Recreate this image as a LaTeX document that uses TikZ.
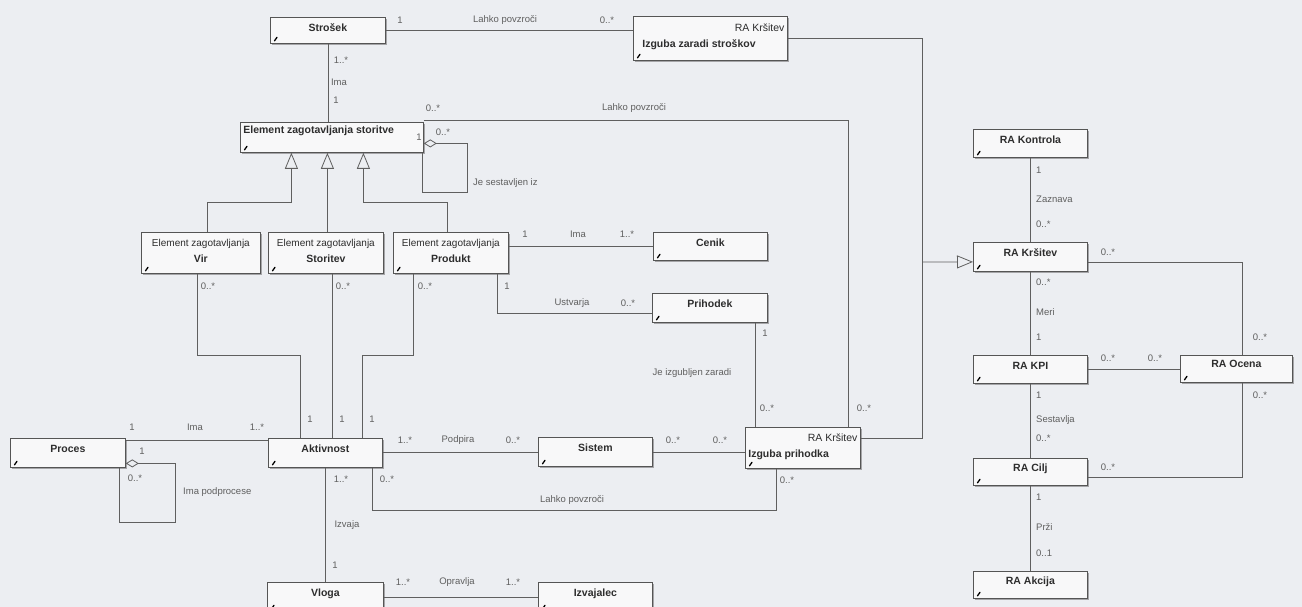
\documentclass[tikz,border=0pt]{standalone}
\usepackage{fontspec}
\setmainfont{Liberation Sans}
\usetikzlibrary{arrows.meta,shadows,calc}
\definecolor{bg}{RGB}{236,238,242}
\definecolor{boxfill}{RGB}{248,248,249}
\definecolor{boxline}{RGB}{85,85,85}
\definecolor{shad}{RGB}{165,165,168}
\definecolor{linec}{RGB}{95,95,95}
\definecolor{lblc}{RGB}{95,95,95}
\definecolor{namec}{RGB}{45,45,45}
\begin{document}
\begin{tikzpicture}[x=1pt,y=-1pt,
  box/.style={draw=boxline, line width=0.8pt, fill=boxfill, anchor=north west,
    inner xsep=2pt, inner ysep=0pt, text height=14pt, align=center,
    font=\fontsize{10.5}{16}\selectfont\bfseries, text=namec,
    drop shadow={shadow xshift=1.8pt, shadow yshift=-1.8pt, fill=shad, opacity=1}},
  ln/.style={draw=linec, line width=0.8pt},
  gen/.style={ln, -{Triangle[open, length=16pt, width=13pt, line width=0.8pt]}},
  agg/.style={ln, -{Diamond[open, length=13pt, width=8pt, line width=0.8pt]}},
  lbl/.style={font=\fontsize{9.5}{11}\selectfont, text=lblc, inner sep=0pt},
  icon/.style={draw=black, line width=1.3pt, line cap=round}
]
\useasboundingbox (0,0) rectangle (1302,607);
\fill[bg] (0,0) rectangle (1302,607);

% ---------- boxes ----------
\node[box, minimum width=115pt, text depth=12pt] (strosek) at (270,17) {Strošek};
\node[box, minimum width=154pt, text height=31pt, text depth=13pt] (izs) at (633,16)
  {\makebox[148pt][r]{\mdseries RA Kršitev}\\\makebox[148pt][l]{\hspace{6pt}Izguba zaradi stroškov}};
\node[box, minimum width=183pt, text height=11pt, text depth=19pt] (element) at (240,122)
  {\makebox[177pt][l]{Element zagotavljanja storitve}};
\node[box, minimum width=119pt, text height=30pt, text depth=11pt] (vir) at (141,232)
  {{\mdseries\fontsize{10}{16}\selectfont Element zagotavljanja}\\Vir};
\node[box, minimum width=115pt, text height=30pt, text depth=11pt] (storitev) at (268,232)
  {{\mdseries\fontsize{10}{16}\selectfont Element zagotavljanja}\\Storitev};
\node[box, minimum width=115pt, text height=30pt, text depth=11pt] (produkt) at (393,232)
  {{\mdseries\fontsize{10}{16}\selectfont Element zagotavljanja}\\Produkt};
\node[box, minimum width=114pt, text depth=14pt] (cenik) at (653,232) {Cenik};
\node[box, minimum width=115pt, text depth=15pt] (prihodek) at (652,293) {Prihodek};
\node[box, minimum width=115pt, text depth=15pt] (proces) at (10,438) {Proces};
\node[box, minimum width=114pt, text depth=15pt] (aktivnost) at (268,438) {Aktivnost};
\node[box, minimum width=114pt, text depth=15pt] (sistem) at (538,437) {Sistem};
\node[box, minimum width=115pt, text height=30pt, text depth=11pt] (izp) at (745,427)
  {\makebox[109pt][r]{\mdseries RA Kršitev}\\\makebox[109pt][l]{Izguba prihodka}};
\node[box, minimum width=116pt, text depth=15pt] (vloga) at (267,582) {Vloga};
\node[box, minimum width=114pt, text depth=15pt] (izvajalec) at (538,582) {Izvajalec};
\node[box, minimum width=114pt, text depth=14pt] (kontrola) at (973,129) {RA Kontrola};
\node[box, minimum width=114pt, text depth=15pt] (krsitev) at (973,242) {RA Kršitev};
\node[box, minimum width=114pt, text depth=14pt] (kpi) at (973,355) {RA KPI};
\node[box, minimum width=114pt, text height=13pt, text depth=14pt] (cilj) at (973,458) {RA Cilj};
\node[box, minimum width=114pt, text height=13pt, text depth=14pt] (akcija) at (973,571) {RA Akcija};
\node[box, minimum width=112pt, text height=12pt, text depth=15pt] (ocena) at (1180,355) {RA Ocena};

\foreach \n in {strosek,izs,element,vir,storitev,produkt,cenik,prihodek,proces,aktivnost,sistem,izp,vloga,izvajalec,kontrola,krsitev,kpi,cilj,akcija,ocena}
  \draw[icon] ([shift={(4.5pt,3pt)}]\n.south west) -- ++(2.5pt,3.5pt);

% ---------- connectors ----------
\draw[ln] (strosek.east) -- (strosek.east -| izs.west);
\draw[ln] (strosek.south) -- (strosek.south |- element.north);
% generalizations to Element
\draw[gen] ([xshift=6.5pt]vir.north) |- ([xshift=-40.5pt,yshift=-50pt]element.south) -- ([xshift=-40.5pt]element.south);
\draw[gen] ([xshift=1.5pt]storitev.north) -- ([xshift=1.5pt]storitev.north |- element.south);
\draw[gen] ([xshift=-3.5pt]produkt.north) |- ([xshift=31.5pt,yshift=-50pt]element.south) -- ([xshift=31.5pt]element.south);
% self aggregation Element
\draw[agg] ([xshift=-1pt]element.south east) -- ++(0,40) -- ++(45,0) |- ([yshift=-6pt]element.east);
% Element -> Izguba prihodka
\draw[ln] ([yshift=2pt]element.north east) -| ([xshift=45.5pt]izp.north);
% generalizations to RA Krsitev
\coordinate (gj) at (922,262);
\draw[ln] (izs.east) -| (gj);
\draw[ln] ([yshift=10pt]izp.east) -| (gj);
\draw[gen] (gj) -- ([yshift=-5pt]krsitev.west);
% Produkt
\draw[ln] (produkt.east |- cenik.west) -- (cenik.west);
\draw[ln] ([xshift=46.5pt]produkt.south) |- ([yshift=-5.5pt]prihodek.west);
\draw[ln] ([xshift=45.5pt]prihodek.south) -- ([xshift=45.5pt]prihodek.south |- izp.north);
% sub elements -> Aktivnost
\draw[ln] ([xshift=-3.5pt]vir.south) |- ([xshift=-25pt,yshift=83pt]aktivnost.north) -- ([xshift=-25pt]aktivnost.north);
\draw[ln] ([xshift=6.5pt]storitev.south) -- ([xshift=6.5pt]storitev.south |- aktivnost.north);
\draw[ln] ([xshift=-37.5pt]produkt.south) |- ([xshift=37pt,yshift=83pt]aktivnost.north) -- ([xshift=37pt]aktivnost.north);
% Proces
\draw[ln] ([yshift=-2pt]proces.north east) -- ([yshift=-2pt]aktivnost.north west);
\draw[agg] ([xshift=-6pt]proces.south east) -- ++(0,55) -- ++(56,0) |- ([yshift=-10.5pt]proces.east);
% Aktivnost
\draw[ln] (aktivnost.east |- sistem.west) -- (sistem.west);
\draw[ln] (sistem.east) -- (sistem.east -| izp.west);
\draw[ln] ([xshift=47pt]aktivnost.south) -- ++(0,43) -| ([xshift=-26.5pt]izp.south);
\draw[ln] (aktivnost.south) -- (aktivnost.south |- vloga.north);
\draw[ln] (vloga.east) -- (vloga.east -| izvajalec.west);
% right column
\draw[ln] (kontrola.south) -- (kontrola.south |- krsitev.north);
\draw[ln] (krsitev.south) -- (krsitev.south |- kpi.north);
\draw[ln] (kpi.south) -- (kpi.south |- cilj.north);
\draw[ln] (cilj.south) -- (cilj.south |- akcija.north);
\draw[ln] ([yshift=-5pt]krsitev.east) -| ([xshift=6pt]ocena.north);
\draw[ln] (kpi.east) -- (kpi.east -| ocena.west);
\draw[ln] ([yshift=-5.5pt]cilj.east) -| ([xshift=6pt]ocena.south);

% ---------- labels ----------
\foreach \x/\y/\t [count=\i] in {
  400/20/{1}, 505/20/{Lahko povzroči}, 607/20/{0..*},
  341/60/{1..*}, 339/82/{Ima}, 336/100/{1},
  419/137/{1}, 443/132/{0..*},
  433/108/{0..*}, 634/108/{Lahko povzroči}, 864/408/{0..*},
  525/234/{1}, 578/234/{Ima}, 627/234/{1..*},
  507/286/{1}, 572/303/{Ustvarja}, 628/303/{0..*},
  765/333/{1}, 767/408/{0..*}, 692/373/{Je izgubljen zaradi},
  208/286/{0..*}, 343/286/{0..*}, 425/286/{0..*},
  310/419/{1}, 342/419/{1}, 372/419/{1},
  132/427/{1}, 195/427/{Ima}, 257/427/{1..*},
  142/451/{1}, 135/478/{0..*},
  405/440/{1..*}, 458/440/{Podpira}, 513/440/{0..*},
  673/440/{0..*}, 720/440/{0..*},
  387/479/{0..*}, 572/500/{Lahko povzroči}, 787/480/{0..*},
  341/479/{1..*}, 347/525/{Izvaja}, 335/565/{1},
  403/582/{1..*}, 457/582/{Opravlja}, 513/582/{1..*},
  1108/252/{0..*}, 1260/337/{0..*},
  1108/358/{0..*}, 1155/358/{0..*},
  1108/467/{0..*}, 1260/395/{0..*}}
  \node[lbl] (lab\i) at (\x,\y) {\t};

\foreach \y/\t [count=\i] in {
  170/{1}, 199/{Zaznava}, 224/{0..*}, 282/{0..*}, 312/{Meri}, 337/{1},
  395/{1}, 420/{Sestavlja}, 438/{0..*}, 497/{1}, 527/{Prži}, 553/{0..1}}
  \node[lbl, anchor=west] (rlab\i) at (1036,\y) {\t};

\node[lbl, anchor=west] (labjs) at (473,183) {Je sestavljen iz};
\node[lbl, anchor=west] (labip) at (183,492) {Ima podprocese};
\end{tikzpicture}
\end{document}
